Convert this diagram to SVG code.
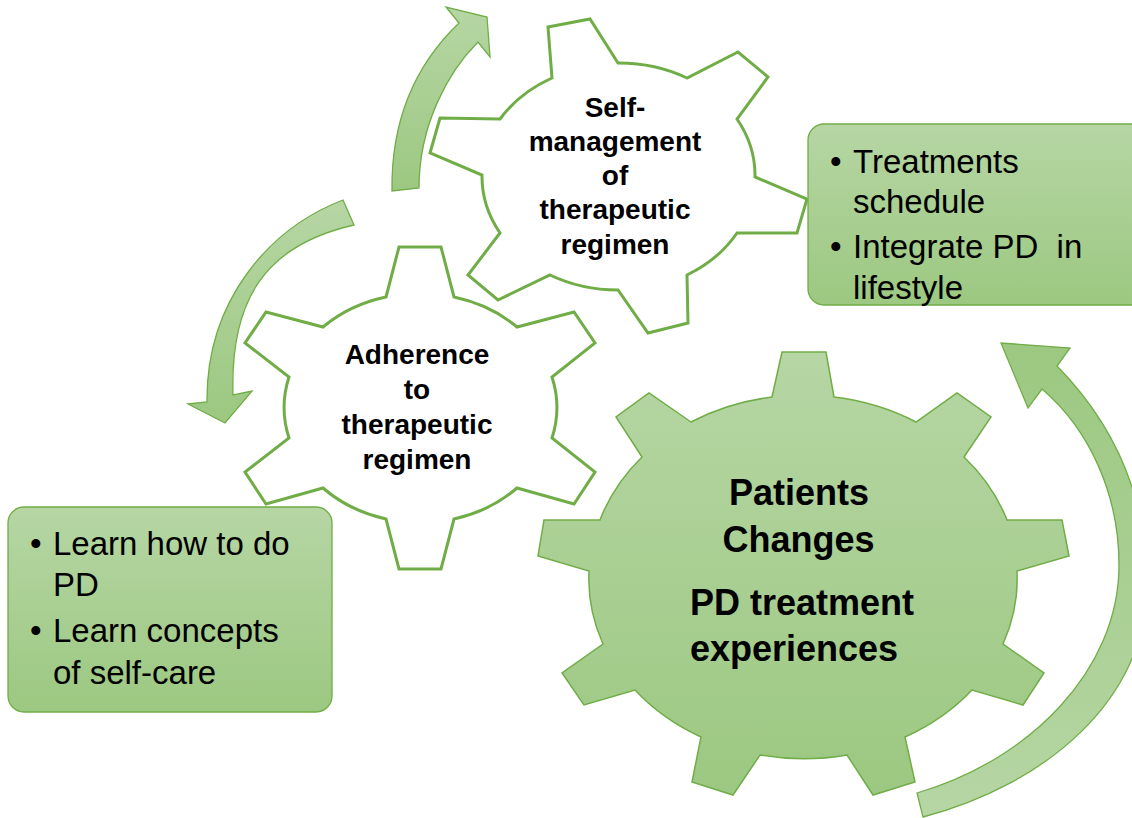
<svg xmlns="http://www.w3.org/2000/svg" width="1132" height="818" viewBox="0 0 1132 818">
<defs>
<linearGradient id="gDown" x1="0" y1="0" x2="0" y2="1">
<stop offset="0" stop-color="#b6d6a4"/>
<stop offset="1" stop-color="#9cc881"/>
</linearGradient>
<linearGradient id="gUp" x1="0" y1="1" x2="0" y2="0">
<stop offset="0" stop-color="#b6d6a4"/>
<stop offset="1" stop-color="#9cc881"/>
</linearGradient>
<style>
.arrow{stroke:#70ad47;stroke-width:1.3;stroke-linejoin:miter}
.gearW{fill:#ffffff;stroke:#70ad47;stroke-width:3;stroke-linejoin:miter}
.gearG{fill:url(#gDown);stroke:#70ad47;stroke-width:1.5}
.box{fill:url(#gDown);stroke:#70ad47;stroke-width:1.3}
.lbl{font-family:"Liberation Sans",Arial,sans-serif;font-weight:bold;font-size:28px;fill:#000;text-anchor:middle}
.big{font-family:"Liberation Sans",Arial,sans-serif;font-weight:bold;font-size:36px;fill:#000}
.bt{font-family:"Liberation Sans",Arial,sans-serif;font-size:33px;fill:#000;white-space:pre}
</style>
</defs>
<g id="connectors">
<path id="arrow-up" class="arrow" fill="url(#gDown)" d="M392,191 C391,120 415,65 459,23 L446,7 L487,17 L490,57 L478,42 C448,72 419,125 419,188 Z"/>
<path id="arrow-left" class="arrow" fill="url(#gDown)" d="M343,200 C270,228 206,300 207,402 L188,404 L225,423 L252,391 L233,395 C230,300 265,245 354,225 Z"/>
<path id="arrow-right" class="arrow" fill="url(#gUp)" d="M923,817 C1045,785 1147,700 1147,585 C1147,490 1110,420 1057,366 L1070,348 L1001,343 L1028,408 L1042,389 C1090,430 1119,495 1119,565 C1119,670 1030,760 917,793 Z"/>
</g>
<g id="gear-self">
<path class="gearW" d="M552,78 L548,27 L590,19 L618,63 A137 114 0 0 1 687,78 L738,52 L768,77 L737,119 A137 114 0 0 1 755,177 L807,199 L797,233 L737,233 A137 114 0 0 1 687,275 L688,323 L648,333 L618,290 A137 114 0 0 1 550,275 L498,300 L468,275 L500,233 A137 114 0 0 1 482,175 L430,153 L440,118 L500,119 A137 114 0 0 1 552,78 Z"/>
<text class="lbl" x="615" y="116.5">Self-</text>
<text class="lbl" x="615" y="150.8">management</text>
<text class="lbl" x="615" y="185.1">of</text>
<text class="lbl" x="615" y="219.4">therapeutic</text>
<text class="lbl" x="615" y="253.7">regimen</text>
</g>
<g id="gear-adherence">
<path class="gearW" d="M386,297 L399,247 L441,247 L454,297 A136 115 0 0 1 517,327 L574,312 L595,343 L552,377 A136 115 0 0 1 552,438 L595,472 L574,504 L517,488 A136 115 0 0 1 454,519 L441,569 L399,569 L386,519 A136 115 0 0 1 323,488 L266,504 L245,472 L289,438 A136 115 0 0 1 289,377 L245,343 L266,312 L323,327 A136 115 0 0 1 386,297 Z"/>
<text class="lbl" x="417" y="364">Adherence</text>
<text class="lbl" x="417" y="399">to</text>
<text class="lbl" x="417" y="434">therapeutic</text>
<text class="lbl" x="417" y="469">regimen</text>
</g>
<g id="gear-patients">
<path class="gearG" d="M772,397 L782,352 L826,352 L834,397 A214 182 0 0 1 916,422 L957,393 L991,417 L964,457 A214 182 0 0 1 1007,520 L1062,520 L1069,556 L1017,571 A214 182 0 0 1 1003,644 L1044,673 L1023,705 L972,690 A214 182 0 0 1 905,737 L915,782 L873,795 L847,755 A214 182 0 0 1 760,755 L733,795 L692,782 L701,737 A214 182 0 0 1 635,690 L584,705 L562,673 L603,644 A214 182 0 0 1 589,571 L538,556 L544,520 L600,520 A214 182 0 0 1 642,457 L616,417 L649,393 L691,422 A214 182 0 0 1 772,397 Z"/>
<text class="big" x="799" y="505" text-anchor="middle">Patients</text>
<text class="big" x="798.5" y="551.7" text-anchor="middle">Changes</text>
<text class="big" x="690" y="615">PD treatment</text>
<text class="big" x="690" y="660.7">experiences</text>
</g>
<g id="box-right">
<rect class="box" x="808" y="124" width="360" height="181" rx="16" ry="16"/>
<text class="bt" x="830" y="173" xml:space="preserve">•</text>
<text class="bt" x="853" y="173">Treatments</text>
<text class="bt" x="853" y="212.5">schedule</text>
<text class="bt" x="830" y="258">•</text>
<text class="bt" x="853" y="258" xml:space="preserve">Integrate PD  in</text>
<text class="bt" x="853" y="299">lifestyle</text>
</g>
<g id="box-left">
<rect class="box" x="8" y="507" width="324" height="205" rx="16" ry="16"/>
<text class="bt" x="30" y="555">•</text>
<text class="bt" x="53" y="555">Learn how to do</text>
<text class="bt" x="53" y="596">PD</text>
<text class="bt" x="30" y="642">•</text>
<text class="bt" x="53" y="642">Learn concepts</text>
<text class="bt" x="53" y="684">of self-care</text>
</g>
</svg>
